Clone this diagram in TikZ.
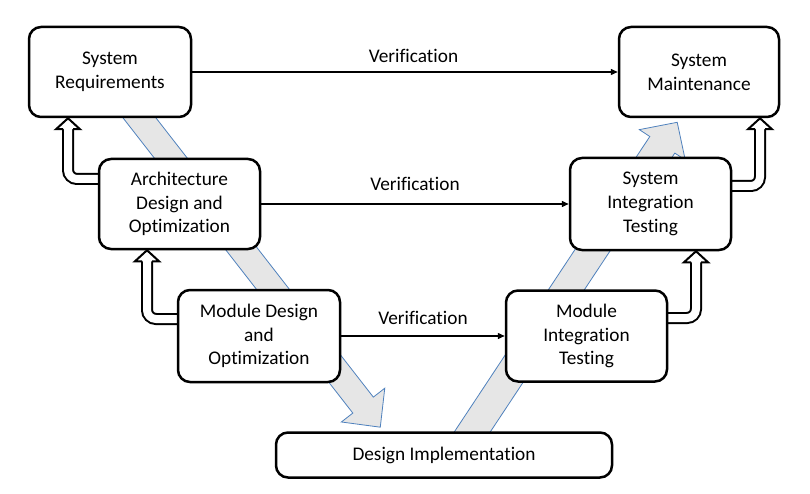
\documentclass[tikz,border=0pt]{standalone}
\usepackage{fontspec}
\setmainfont{Carlito}[Ligatures=NoCommon]
\usetikzlibrary{arrows.meta,positioning,backgrounds}
\definecolor{band}{HTML}{E6E6E6}
\definecolor{bandline}{HTML}{4F81BD}

\begin{document}
\begin{tikzpicture}[
    x=1pt, y=-1pt,
    font=\fontsize{19.3}{23.7}\selectfont,
    stage/.style={draw, line width=2.5pt, rounded corners=12pt, fill=white, align=center, inner sep=2pt},
    check/.style={-{Triangle[length=7pt,width=6pt]}, line width=1.4pt},
    feed/.style={double=white, double distance=8pt, line width=2pt, rounded corners=9pt},
    flow/.style={fill=band, draw=bandline, line width=0.8pt},
    uphead/.pic={\draw[fill=white, line width=2pt, line join=miter] (-5,11) -- (-12,11) -- (0,0) -- (12,11) -- (5,11);}
  ]
  \useasboundingbox (0,0) rectangle (810,494);

  % wide grey bands behind the boxes
  \begin{scope}[shift={(110,80)}, rotate=-52.1]
    \draw[flow] (0,-13) -- (412,-13) -- (412,-27.5) -- (440,0) -- (412,27.5) -- (412,13) -- (0,13) -- cycle;
  \end{scope}
  \begin{scope}[shift={(457,455)}, rotate=56.5]
    \draw[flow] (0,-15) -- (372,-15) -- (372,-27.5) -- (399,0) -- (372,27.5) -- (372,15) -- (0,15) -- cycle;
  \end{scope}

  \node[stage, minimum width=162pt, minimum height=90pt] (req) at (110,72) {System\\Requirements};
  \node[stage, minimum width=160pt, minimum height=90pt] (maint) at (699,72) {System\\Maintenance};
  \node[stage, minimum width=161pt, minimum height=90pt] (arch) at (179.5,204) {Architecture\\Design and\\Optimization};
  \node[stage, minimum width=161pt, minimum height=92pt] (sysint) at (650.5,204) {System\\Integration\\Testing};
  \node[stage, minimum width=162pt, minimum height=92pt] (mod) at (259,336) {Module Design\\and\\Optimization};
  \node[stage, minimum width=161pt, minimum height=91pt] (modint) at (586.5,336) {Module\\Integration\\Testing};
  \node[stage, minimum width=336pt, minimum height=45pt] (impl) at (444,455) {Design Implementation};

  % hollow arrows on the sides
  \coordinate (b1) at (68,128);
  \coordinate (b2) at (147,259);
  \coordinate (b3) at (696,261);
  \coordinate (b4) at (760,128);
  \begin{pgfonlayer}{background}
    \draw[feed] ([shift={(10,-25)}]arch.west) -| (b1);
    \draw[feed] ([shift={(10,-17)}]mod.west) -| (b2);
    \draw[feed] ([shift={(-10,-18)}]modint.east) -| (b3);
    \draw[feed] ([shift={(-10,-18)}]sysint.east) -| (b4);
  \end{pgfonlayer}
  \pic at (b1 |- req.south) {uphead};
  \pic at (b2 |- arch.south) {uphead};
  \pic at (b3 |- sysint.south) {uphead};
  \pic at (b4 |- maint.south) {uphead};

  \draw[check] (req) -- node[pos=0.52, above=5pt] {Verification} (maint);
  \draw[check] (arch) -- node[above=9pt] {Verification} (sysint);
  \draw[check] (mod) -- node[above=7pt] {Verification} (modint);
\end{tikzpicture}
\end{document}
